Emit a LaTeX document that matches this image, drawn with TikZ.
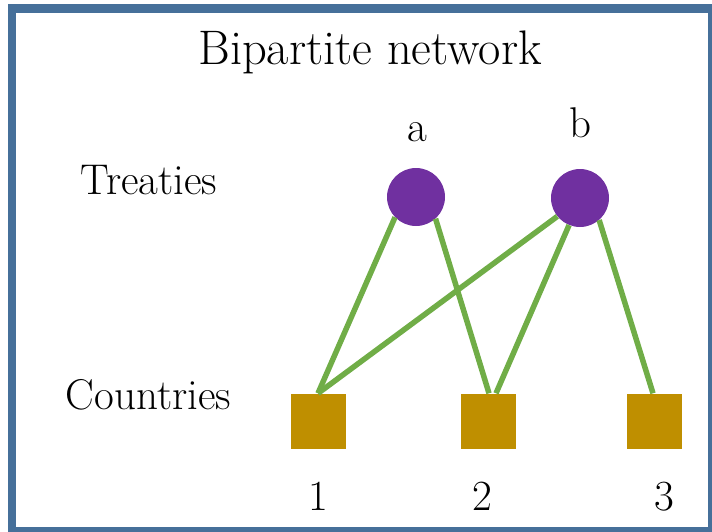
\documentclass[tikz,border=0pt]{standalone}
\usepackage{fontspec}
\definecolor{framecol}{HTML}{46709A}
\definecolor{treatycol}{HTML}{7030A0}
\definecolor{countrycol}{HTML}{BF8F00}
\definecolor{edgecol}{HTML}{70AD47}
\begin{document}
\begin{tikzpicture}[x=1pt,y=-1pt,
  treaty/.style={circle,fill=treatycol,minimum size=58pt,inner sep=0pt},
  country/.style={rectangle,fill=countrycol,minimum size=55pt,inner sep=0pt},
  tie/.style={draw=edgecol,line width=5.5pt},
  lbl/.style={anchor=base,inner sep=0pt,font=\rmfamily\fontsize{43}{50}\selectfont},
  title/.style={anchor=base,inner sep=0pt,font=\rmfamily\fontsize{48.5}{56}\selectfont}]
  \useasboundingbox (0,0) rectangle (712,531);
  % outer frame
  \draw[framecol,line width=8.5pt] (12,8.5) rectangle (712,531);

  % texts
  \node[title] (ttl) at (370,64) {Bipartite network};
  \node[lbl] (tlab) at (149,194) {Treaties};
  \node[lbl] (clab) at (148.5,409) {Countries};
  \node[lbl] (la) at (417,141) {a};
  \node[lbl] (lb) at (580,137) {b};
  \node[lbl] (l1) at (318,510) {1};
  \node[lbl] (l2) at (482,510) {2};
  \node[lbl] (l3) at (664,510) {3};

  % treaties and countries
  \node[treaty] (a) at (416,197) {};
  \node[treaty] (b) at (580,198) {};
  \node[country] (s1) at (318,421) {};
  \node[country] (s2) at (488,421) {};
  \node[country] (s3) at (654,421) {};

  % ties
  \draw[tie] (a.224) -- (s1.north);
  \draw[tie] (a.312) -- ([xshift=1pt]s2.north);
  \draw[tie] (b.219) -- (s1.north);
  \draw[tie] (b.248) -- ([xshift=8pt]s2.north);
  \draw[tie] (b.311) -- ([xshift=-1pt]s3.north);
\end{tikzpicture}
\end{document}
